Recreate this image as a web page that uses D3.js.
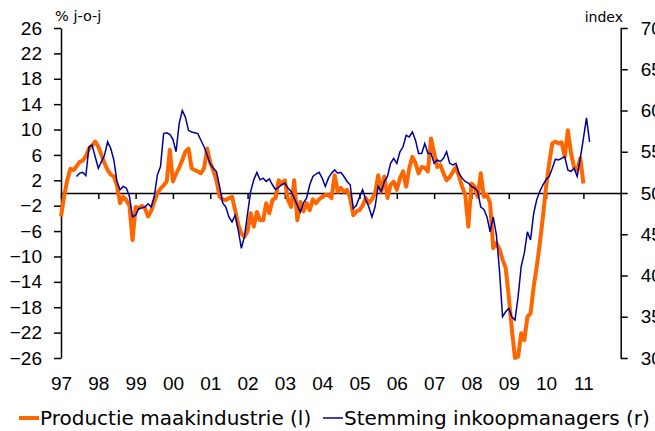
<!DOCTYPE html>
<html lang="nl">
<head>
<meta charset="UTF-8">
<title>Productie maakindustrie en stemming inkoopmanagers</title>
<style>
    body { margin: 0; background: #fff; }
    svg { display: block; font-family: "DejaVu Sans", Verdana, sans-serif; }
    .axis path, .axis line { stroke: #000; stroke-width: 1.5; }
    .axis text { font-size: 19px; fill: #000; }
</style>
</head>
<body>
<svg id="chart" width="655" height="431"></svg>
<script src="https://d3js.org/d3.v7.min.js"></script>
<script>
// year ticks and labels
const years = d3.range(1997, 2012);
const yearLabels = ['97','98','99','00','01','02','03','04','05','06','07','08','09','10','11'];
const leftTicks = d3.range(-26, 27, 4);
const rightTicks = [30, 35, 40, 45, 50, 55, 60, 65, 70];

// Productie maakindustrie, % j-o-j, monthly from jan 1997
const productieStart = 1997;
const productie = [
    -3.7, -0.5, 2.0, 3.8, 3.6, 4.2, 4.9, 5.1, 5.8, 7.0, 7.5, 8.1,
    7.3, 6.0, 4.7, 3.6, 2.9, 2.6, 1.2, -1.6, -0.6, -1.1, -2.0, -7.4,
    -2.2, -2.4, -2.0, -2.4, -3.7, -2.8, -1.4, 0.0, 0.7, 1.2, 1.8, 6.8,
    1.8, 3.0, 4.0, 5.2, 6.5, 7.0, 3.9, 3.6, 3.4, 3.1, 3.9, 7.0,
    4.8, 3.5, 2.0, -0.6, -1.0, -1.1, -0.8, -0.6, -2.7, -5.0, -6.4, -6.9,
    -6.0, -3.2, -5.3, -3.0, -4.3, -4.3, -1.6, -3.2, -1.1, -0.8, 2.0, 1.5,
    2.0, -1.1, -2.2, 2.0, -4.3, -1.4, -2.9, -1.6, -2.7, -1.0, -1.6, -1.0,
    -0.6, -0.3, -0.3, -0.8, 2.8, 0.2, 0.8, 0.2, 0.5, -0.8, -3.5, -2.9,
    -2.7, -2.0, -0.8, -1.6, -1.0, 0.0, 2.8, 0.2, 2.6, -0.8, 1.3, 1.8,
    0.5, 2.3, 3.4, 1.0, 3.9, 5.7, 4.7, 3.1, 4.1, 4.0, 3.4, 8.6,
    6.3, 4.1, 4.4, 3.1, 2.0, 2.5, 3.3, 4.1, 2.6, 1.0, -0.3, -5.3,
    1.5, 1.0, -0.6, 3.1, -0.6, -0.3, -1.6, -8.7, -7.9, -8.8, -10.5, -11.8,
    -16.3, -21.5, -26.0, -25.8, -22.1, -23.2, -19.5, -19.0, -14.8, -11.6, -7.9, -3.7,
    1.0, 4.7, 7.8, 8.1, 7.8, 8.0, 5.7, 9.9, 6.3, 4.1, 3.6, 5.5,
    1.5
];

// Stemming inkoopmanagers, index, monthly from jun 1997
const stemmingStart = 1997 + 5 / 12;
const stemming = [
    52.0, 52.4, 52.5, 52.1, 55.6, 55.8, 54.4,
    53.0, 53.8, 54.6, 56.2, 55.4, 54.0, 51.4, 50.4, 50.8, 50.6, 49.6, 47.1,
    47.3, 48.1, 48.2, 48.3, 48.7, 48.3, 49.6, 52.2, 53.2, 57.2, 57.3, 57.1,
    56.5, 55.0, 58.4, 60.0, 59.2, 57.6, 57.4, 57.3, 57.2, 56.4, 55.6, 54.6,
    53.5, 53.0, 52.6, 50.8, 48.8, 48.3, 47.1, 46.5, 47.3, 45.5, 43.3, 44.7,
    47.5, 50.2, 51.6, 52.5, 51.6, 51.8, 51.4, 51.7, 51.0, 50.4, 50.7, 51.0,
    51.2, 50.6, 50.2, 49.4, 48.5, 47.7, 48.8, 49.4, 51.0, 52.0, 52.3, 52.5,
    51.8, 50.8, 51.8, 52.4, 52.8, 52.4, 52.5, 52.0, 51.4, 51.0, 48.1, 48.5,
    49.5, 50.4, 49.2, 48.3, 47.1, 48.3, 50.8, 50.2, 51.4, 52.0, 53.6, 54.2,
    53.6, 55.0, 55.6, 57.0, 56.8, 57.4, 56.4, 54.8, 54.8, 56.0, 54.8, 54.8,
    53.6, 54.0, 53.8, 54.2, 55.0, 53.6, 53.4, 53.6, 52.4, 51.8, 51.4, 51.2,
    50.8, 50.6, 50.2, 48.3, 48.0, 47.1, 45.3, 47.1, 45.0, 40.7, 35.0, 35.6,
    36.0, 35.0, 34.6, 37.4, 41.1, 42.7, 45.3, 44.3, 47.5, 49.2, 50.2, 51.0,
    51.6, 52.0, 53.0, 54.1, 54.0, 54.2, 54.4, 52.8, 52.6, 53.0, 52.0, 54.2,
    56.6, 59.1, 56.2
];

const svg = d3.select('#chart');
const plotLeft = 61, plotRight = 620.7, plotTop = 28, plotBottom = 358;

const x = d3.scaleLinear().domain([1997, 2012]).range([plotLeft, plotRight]);
const yL = d3.scaleLinear().domain([-26, 26]).range([plotBottom, plotTop]);
const yR = d3.scaleLinear().domain([30, 70]).range([plotBottom, plotTop]);

// zero line with year ticks
svg.append('g')
    .attr('class', 'axis')
    .attr('transform', `translate(0,${yL(0)})`)
    .call(d3.axisBottom(x).tickValues(years).tickSize(6).tickSizeOuter(0).tickFormat(''))
    .call(g => g.select('.domain').attr('stroke-width', 2));

// year labels
svg.append('g')
    .attr('class', 'axis')
    .attr('transform', `translate(0,${plotBottom + 15})`)
    .call(d3.axisBottom(x).tickValues(years).tickSize(0).tickFormat((d, i) => yearLabels[i]))
    .call(g => g.select('.domain').remove());

svg.append('g')
    .attr('class', 'axis')
    .attr('transform', `translate(${plotLeft},0)`)
    .call(d3.axisLeft(yL).tickValues(leftTicks).tickSize(7).tickSizeOuter(0).tickPadding(12));

// right axis, labels run off the edge as in the source
svg.append('g')
    .attr('class', 'axis')
    .attr('transform', `translate(${plotRight},0)`)
    .call(d3.axisRight(yR).tickValues(rightTicks).tickSize(7).tickSizeOuter(0).tickPadding(13));

// lines
const lineL = d3.line()
    .x((d, i) => x(productieStart + i / 12))
    .y(d => yL(d));
const lineR = d3.line()
    .x((d, i) => x(stemmingStart + i / 12))
    .y(d => yR(d));

svg.append('path')
    .datum(productie)
    .attr('fill', 'none')
    .attr('stroke', '#ff6600')
    .attr('stroke-width', 4)
    .attr('stroke-linejoin', 'round')
    .attr('d', lineL);

svg.append('path')
    .datum(stemming)
    .attr('fill', 'none')
    .attr('stroke', '#000099')
    .attr('stroke-width', 1.5)
    .attr('d', lineR);

// axis titles
svg.append('text')
    .attr('x', 55).attr('y', 21)
    .attr('font-size', 14.5)
    .text('% j-o-j');
svg.append('text')
    .attr('x', 623).attr('y', 22)
    .attr('text-anchor', 'end')
    .attr('font-size', 14)
    .text('index');

// legend
const legend = [
    { label: 'Productie maakindustrie (l)', color: '#ff6600', width: 4, x: 19 },
    { label: 'Stemming inkoopmanagers (r)', color: '#000099', width: 1.5, x: 323 }
];
const lg = svg.selectAll('.legend')
    .data(legend)
    .enter().append('g')
    .attr('class', 'legend')
    .attr('transform', d => `translate(${d.x},418)`);
lg.append('line')
    .attr('x1', 0).attr('x2', 20)
    .attr('stroke', d => d.color)
    .attr('stroke-width', d => d.width);
lg.append('text')
    .attr('x', 21).attr('y', 7)
    .attr('font-size', 20)
    .text(d => d.label);
</script>
</body>
</html>
